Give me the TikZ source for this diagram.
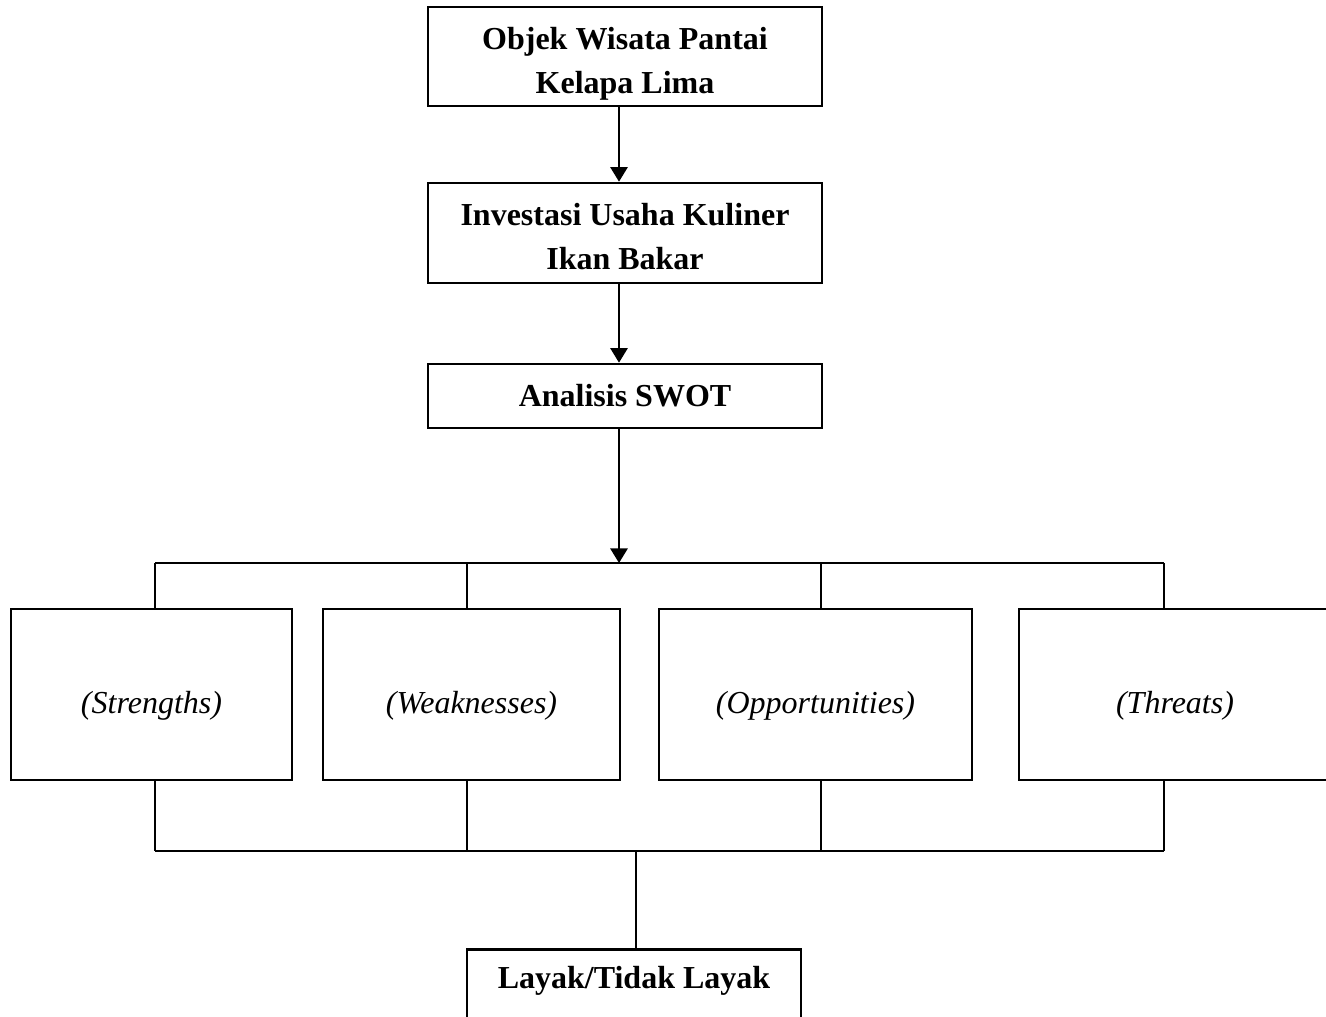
\documentclass[tikz,border=0pt]{standalone}
\usepackage{fontspec}
\setmainfont{Liberation Serif}
\usetikzlibrary{arrows.meta}

\begin{document}
\begin{tikzpicture}[x = 0.375pt, y = -0.375pt, line width = 0.75pt,
		main/.style = {draw, line width = 1pt, inner sep = 0, align = center, minimum width = 147.75pt, font = \fontsize{12}{16.5}\selectfont\bfseries},
		swot/.style = {draw, line width = 1pt, inner sep = 0, minimum height = 64.1pt, text height = 17pt, text depth = 3pt, font = \fontsize{12}{16.5}\selectfont\itshape},
		arr/.style = {-{Triangle[length = 5.5pt, width = 6.5pt]}}]
			\useasboundingbox (0,0) rectangle (1326,1016);
			\node[main, minimum height = 37.1pt] (1) at (625,56.5) {\rule{0pt}{14pt}Objek Wisata Pantai\\Kelapa Lima};
			\node[main, minimum height = 37.5pt] (2) at (625,233) {\rule{0pt}{10.8pt}Investasi Usaha Kuliner\\Ikan Bakar};
			\node[main, minimum height = 24pt] (3) at (625,396) {Analisis SWOT};
			\node[swot, minimum width = 105.4pt] (s) at (151.5,694.5) {(Strengths)};
			\node[swot, minimum width = 111.4pt] (w) at (471.5,694.5) {(Weaknesses)};
			\node[swot, minimum width = 117.4pt] (o) at (815.5,694.5) {(Opportunities)};
			\node[swot, minimum width = 117pt] (t) at (1175,694.5) {(Threats)};
			\node[main, minimum width = 125.25pt, minimum height = 30pt, text depth = 9pt, anchor = north] (4) at (634,948) {Layak/Tidak Layak};
			\coordinate (a) at (619,563);
			\coordinate (b) at (636,851);
			\draw[arr] (a |- 1.south) -- (a |- 2.north);
			\draw[arr] (a |- 2.south) -- (a |- 3.north);
			\draw[arr] (a |- 3.south) -- (a);
			\draw (155,563) -- (1164,563);
			\draw (155,851) -- (1164,851);
			\foreach \x/\n in {155/s, 467/w, 821/o, 1164/t} {
				\draw (\x,563) -- (\x,0 |- \n.north);
				\draw (\x,0 |- \n.south) -- (\x,851);
			}
			\draw (b) -- (b |- 4.north);
		\end{tikzpicture}
\end{document}
